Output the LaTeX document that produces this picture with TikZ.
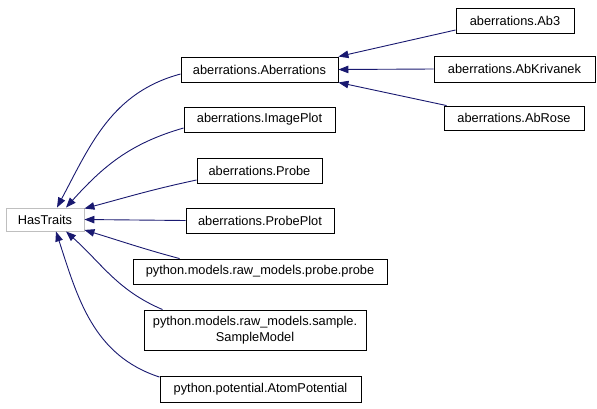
\documentclass[tikz,border=0pt]{standalone}
\usepackage{fontspec}
\setmainfont{Liberation Sans}
\usepackage{tikz}
\usetikzlibrary{arrows.meta}
\definecolor{Edge_Blue}{HTML}{191970}
\definecolor{Root_Gray}{HTML}{BFBFBF}

\begin{document}
\begin{tikzpicture}[x=1pt, y=-1pt,
    every node/.style={font=\fontsize{12.8}{16.5}\selectfont, inner sep=0pt},
    cls/.style={draw=black, line width=0.9pt, fill=white, minimum height=25pt},
    inh/.style={draw=Edge_Blue, line width=0.9pt, -{Triangle[length=10pt, width=7.5pt]}}]
  \useasboundingbox (0,0) rectangle (597,408);
  % Root class
  \node[cls, draw=Root_Gray, minimum width=78pt, minimum height=23pt] (hastraits) at (45,219.5) {HasTraits};
  % Direct subclasses
  \node[cls, minimum width=157pt] (aberr) at (259.5,69.5) {aberrations.Aberrations};
  \node[cls, minimum width=151pt] (imageplot) at (259.5,119.5) {aberrations.ImagePlot};
  \node[cls, minimum width=125pt] (probe) at (259.5,170.5) {aberrations.Probe};
  \node[cls, minimum width=148pt] (probeplot) at (260,220.5) {aberrations.ProbePlot};
  \node[cls, minimum width=254pt] (pyprobe) at (260,271.5) {python.models.raw\_models.probe.probe};
  \node[cls, minimum width=222pt, minimum height=40pt, align=center] (pysample) at (255,330)
        {python.models.raw\_models.sample.\\SampleModel};
  \node[cls, minimum width=201pt, minimum height=26pt] (pyatom) at (260.5,389) {python.potential.AtomPotential};
  % Subclasses of Aberrations
  \node[cls, minimum width=118pt] (ab3) at (515,20.5) {aberrations.Ab3};
  \node[cls, minimum width=161pt, minimum height=26pt] (abkriv) at (514.5,69) {aberrations.AbKrivanek};
  \node[cls, minimum width=140pt, minimum height=24pt] (abrose) at (514,118) {aberrations.AbRose};
  % Edges to Aberrations
  \draw[inh] ([yshift=-9.5pt]ab3.west) -- (aberr.north east);
  \draw[inh] (abkriv.west) -- (aberr.east);
  \draw[inh] ([xshift=3pt]abrose.north west) -- (aberr.south east);
  % Edges to HasTraits
  \draw[inh] ([yshift=-4.5pt]aberr.west) to[out=195, in=62] ([xshift=12pt]hastraits.north);
  \draw[inh] ([yshift=-8.5pt]imageplot.west) to[out=196, in=48] ([xshift=21pt]hastraits.north);
  \draw[inh] ([yshift=-9.5pt]probe.west) to[out=192, in=15] ([yshift=-1pt]hastraits.north east);
  \draw[inh] (probeplot.west) -- (hastraits.east);
  \draw[inh] ([xshift=47pt]pyprobe.north west) to[out=165, in=-17] ([yshift=1.5pt]hastraits.south east);
  \draw[inh] ([xshift=19pt]pysample.north west) to[out=157, in=-42] ([xshift=21pt]hastraits.south);
  \draw[inh] ([yshift=-1.5pt]pyatom.north west) to[out=162, in=-72] ([xshift=11pt]hastraits.south);
\end{tikzpicture}
\end{document}
